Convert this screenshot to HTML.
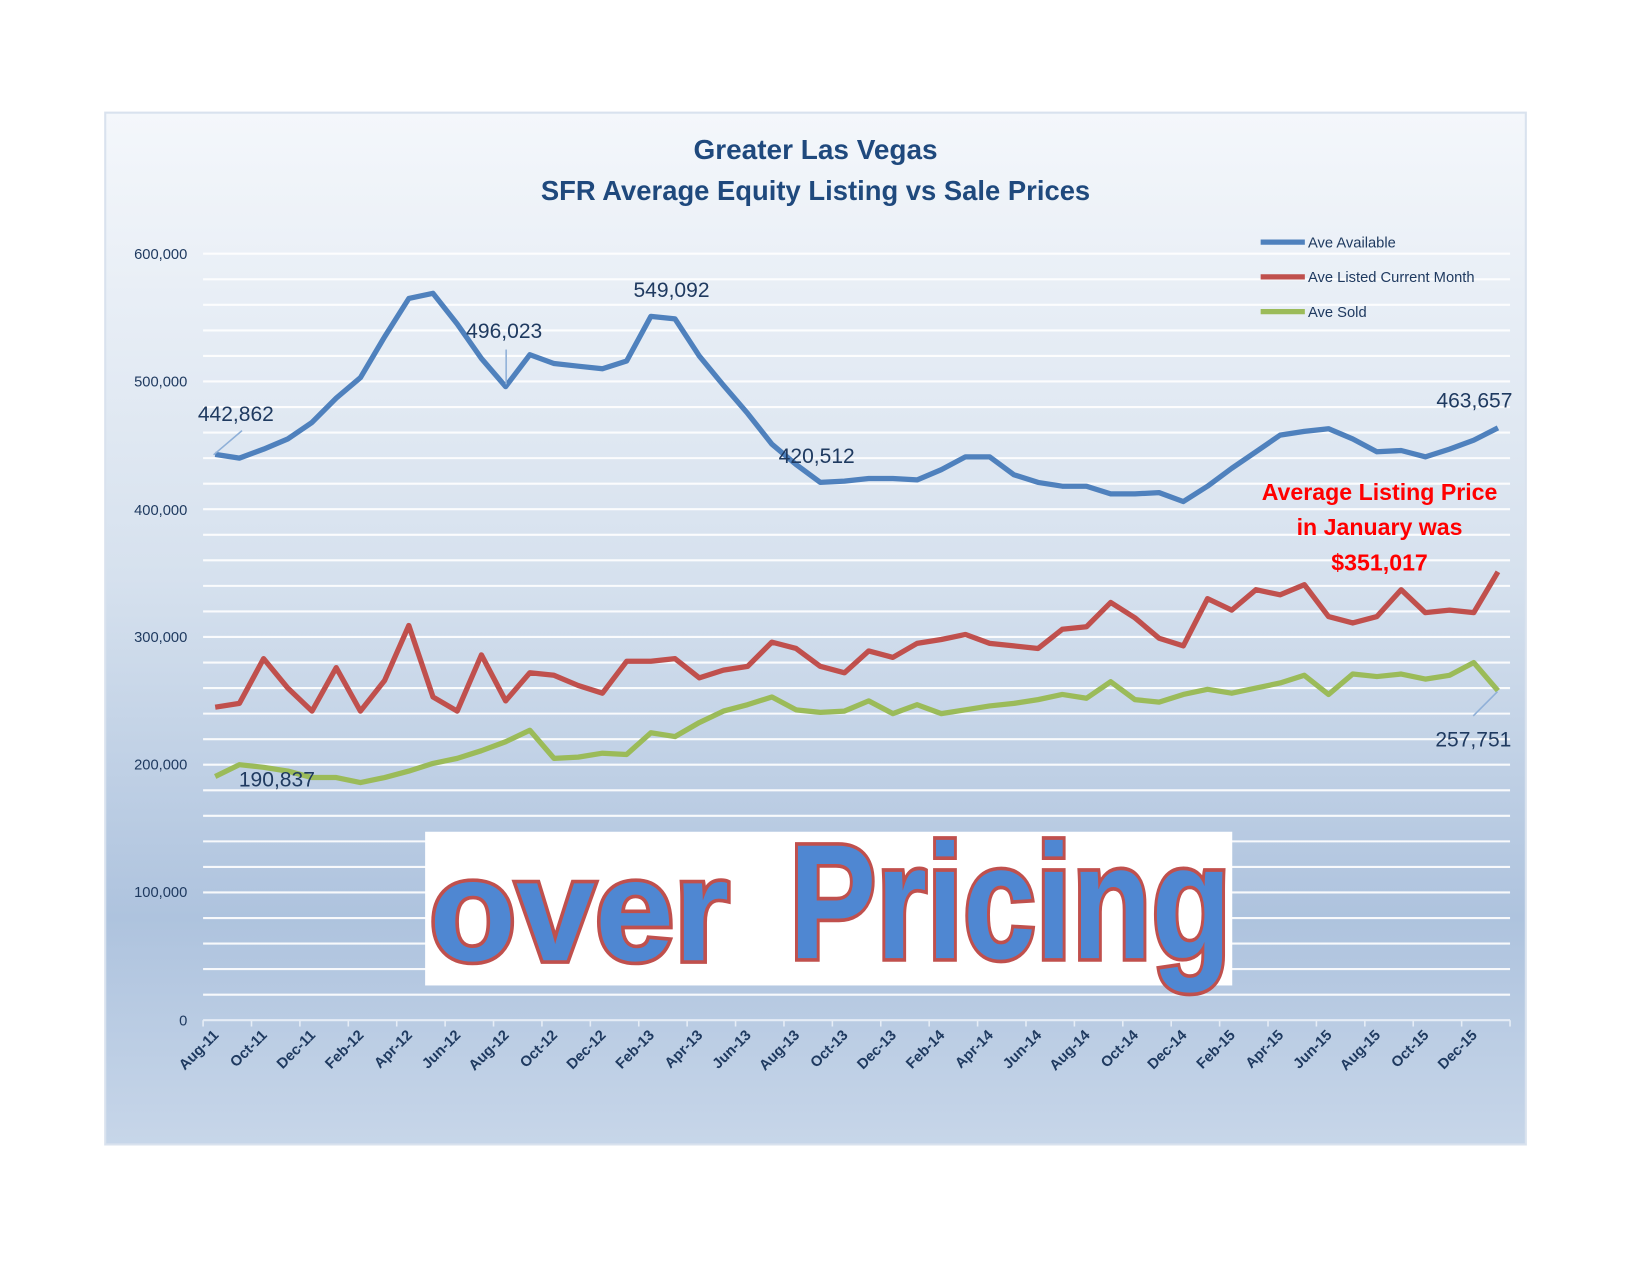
<!DOCTYPE html>
<html><head><meta charset="utf-8"><style>html,body{margin:0;padding:0;background:#fff;}svg{display:block}</style></head>
<body>
<svg xmlns="http://www.w3.org/2000/svg" width="1650" height="1275" viewBox="0 0 1568 1211" preserveAspectRatio="none" font-family="'Liberation Sans', sans-serif">
<defs>
<linearGradient id="bg" x1="0" y1="0" x2="0" y2="1">
<stop offset="0" stop-color="#f4f7fb"/>
<stop offset="0.45" stop-color="#d6e1ee"/>
<stop offset="0.78" stop-color="#aec3de"/>
<stop offset="1" stop-color="#c7d6e9"/>
</linearGradient>
</defs>
<rect x="100" y="107" width="1350" height="980" fill="url(#bg)" stroke="#d9e2ee" stroke-width="2"/>
<g id="grid" stroke="#ffffff" stroke-width="2" opacity="0.9"></g>
<line x1="193" y1="969" x2="1435" y2="969" stroke="#e6edf6" stroke-width="2"/>
<g id="ticks" stroke="#e6edf6" stroke-width="1.5"></g>
<g font-size="14" fill="#1f3a60" text-anchor="end">
<text x="178" y="246">600,000</text><text x="178" y="367">500,000</text><text x="178" y="489">400,000</text>
<text x="178" y="610">300,000</text><text x="178" y="731">200,000</text><text x="178" y="852">100,000</text><text x="178" y="974">0</text>
</g>
<g id="xl" font-size="14" font-weight="bold" fill="#1f3a60" text-anchor="end"></g>
<g font-size="26" font-weight="bold" fill="#1f497d" text-anchor="middle">
<text x="775" y="151" textLength="232" lengthAdjust="spacingAndGlyphs">Greater Las Vegas</text>
<text x="775" y="190" textLength="522" lengthAdjust="spacingAndGlyphs">SFR Average Equity Listing vs Sale Prices</text>
</g>
<g stroke-width="5">
<line x1="1198" y1="230" x2="1240" y2="230" stroke="#4f81bd"/>
<line x1="1198" y1="263" x2="1240" y2="263" stroke="#c0504d"/>
<line x1="1198" y1="296" x2="1240" y2="296" stroke="#9bbb59"/>
</g>
<g font-size="14" fill="#1f3a60">
<text x="1243" y="235">Ave Available</text>
<text x="1243" y="268">Ave Listed Current Month</text>
<text x="1243" y="301">Ave Sold</text>
</g>
<polyline id="red" fill="none" stroke="#c0504d" stroke-width="5" stroke-linejoin="round"/>
<polyline id="green" fill="none" stroke="#9bbb59" stroke-width="5" stroke-linejoin="round"/>
<polyline id="blue" fill="none" stroke="#4f81bd" stroke-width="5" stroke-linejoin="round"/>
<g stroke="#8fb0d8" stroke-width="1.5">
<line x1="203" y1="432" x2="230" y2="409"/>
<line x1="481" y1="332" x2="481" y2="365"/>
<line x1="1423" y1="657" x2="1400" y2="680"/>
</g>
<g font-size="20" fill="#1f3a60">
<text x="188" y="400">442,862</text>
<text x="443" y="321">496,023</text>
<text x="602" y="282">549,092</text>
<text x="740" y="440">420,512</text>
<text x="1365" y="387">463,657</text>
<text x="227" y="747">190,837</text>
<text x="1364" y="709">257,751</text>
</g>
<g font-size="22" font-weight="bold" fill="#ff0000" text-anchor="middle">
<text x="1311" y="475">Average Listing Price</text>
<text x="1311" y="508">in January was</text>
<text x="1311" y="542">$351,017</text>
</g>
<rect x="404" y="790" width="767" height="146" fill="#ffffff"/>
<g font-weight="bold" fill="#4f87d2" stroke="#c0504d" stroke-width="7" paint-order="stroke">
<text x="408" y="912" font-size="138" textLength="285" lengthAdjust="spacingAndGlyphs">over</text>
<text x="750" y="910" font-size="155" textLength="420" lengthAdjust="spacingAndGlyphs">Pricing</text>
</g>
<script>
(function(){
var ns="http://www.w3.org/2000/svg";
function Y(v){return 969-v*1.21333;}
function X(i){return 204.5+23*i;}
var g=document.getElementById('grid');
for(var v=20;v<=600;v+=20){var l=document.createElementNS(ns,'line');l.setAttribute('x1',193);l.setAttribute('x2',1435);l.setAttribute('y1',Y(v));l.setAttribute('y2',Y(v));g.appendChild(l);}
var t=document.getElementById('ticks');
for(var i=0;i<=27;i++){var x=193+46*i;if(x>1435)x=1435;var l=document.createElementNS(ns,'line');l.setAttribute('x1',x);l.setAttribute('x2',x);l.setAttribute('y1',969);l.setAttribute('y2',975);t.appendChild(l);}
var mons=['Aug','Oct','Dec','Feb','Apr','Jun'];
var xl=document.getElementById('xl');
var yr=11,mi=0;
for(var k=0;k<27;k++){var m=mons[mi];var tx=document.createElementNS(ns,'text');var x=X(2*k)+4,y=984;tx.setAttribute('x',x);tx.setAttribute('y',y);tx.setAttribute('transform','rotate(-45 '+x+' '+y+')');tx.textContent=m+'-'+yr;xl.appendChild(tx);mi++;if(mi==6)mi=0;if(mons[mi]=='Feb')yr++;}
var blue=[442.9,440,447,455,468,487,503,535,565,569,545,518,496,521,514,512,510,516,551,549,520,497,475,451,435,421,422,424,424,423,431,441,441,427,421,418,418,412,412,413,406,418,432,445,458,461,463,455,445,446,441,447,454,463.7];
var red=[245,248,283,260,242,276,242,266,309,253,242,286,250,272,270,262,256,281,281,283,268,274,277,296,291,277,272,289,284,295,298,302,295,293,291,306,308,327,315,299,293,330,321,337,333,341,316,311,316,337,319,321,319,351];
var green=[190.8,200,198,195,190,190,186,190,195,201,205,211,218,227,205,206,209,208,225,222,233,242,247,253,243,241,242,250,240,247,240,243,246,248,251,255,252,265,251,249,255,259,256,260,264,270,255,271,269,271,267,270,280,258];
function pts(a){return a.map(function(v,i){return X(i).toFixed(1)+','+Y(v).toFixed(1);}).join(' ');}
document.getElementById('blue').setAttribute('points',pts(blue));
document.getElementById('red').setAttribute('points',pts(red));
document.getElementById('green').setAttribute('points',pts(green));
})();
</script>
</svg>
</body></html>
